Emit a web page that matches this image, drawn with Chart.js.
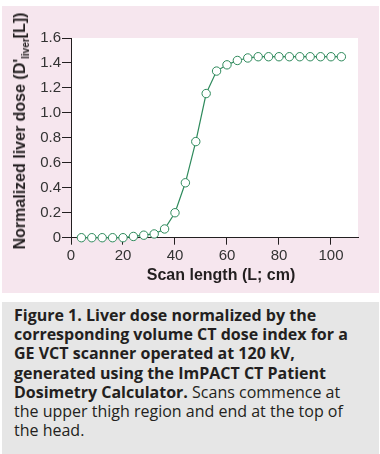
<!DOCTYPE html>
<html><head><meta charset="utf-8">
<script src="https://cdn.jsdelivr.net/npm/chart.js@4.4.1/dist/chart.umd.min.js"></script>
<style>
html,body{margin:0;padding:0;background:#fff;width:380px;height:454px;overflow:hidden;}
#pink{position:absolute;left:2px;top:6px;width:377px;height:287px;background:#f6e6ee;}
#wrap{position:absolute;left:0;top:0;width:380px;height:300px;}
#ytitle{position:absolute;left:20px;top:131px;transform:translate(-50%,-50%) rotate(-90deg);white-space:nowrap;font:bold 16px "Liberation Sans",Arial,sans-serif;color:#231f20;line-height:18px;}
#ytitle sub{font-size:10px;vertical-align:-4px;line-height:0;}
#xtitle{position:absolute;left:221px;top:275px;transform:translate(-50%,-50%);white-space:nowrap;font:bold 16px "Liberation Sans",Arial,sans-serif;color:#231f20;}
#cap{position:absolute;left:2px;top:302px;width:377px;height:152px;background:#e6e6e6;}
#cap p{margin:0;padding:4px 0 0 12px;font:16px/19.2px "Open Sans",sans-serif;color:#231f20;white-space:nowrap;}
#cap b{font-weight:700;}
</style></head>
<body>
<div id="pink"></div>
<div id="wrap"><canvas id="c" width="380" height="300"></canvas></div>
<div id="ytitle">Normalized liver dose (D'<sub>liver</sub>[L])</div>
<div id="xtitle">Scan length (L; cm)</div>
<div id="cap"><p><b>Figure 1. Liver dose normalized by the<br>corresponding volume CT dose index for a<br>GE VCT scanner operated at 120 kV,<br>generated using the ImPACT CT Patient<br>Dosimetry Calculator.</b> Scans commence at<br>the upper thigh region and end at the top of<br>the head.</p></div>
<script>
const scanLength = [4,8,12,16,20,24,28,32,36,40,44,48,52,56,60,64,68,72,76,80,84,88,92,96,100,104];
const liverDose = [0,0,0,0,0,0.01,0.02,0.03,0.07,0.2,0.44,0.77,1.155,1.335,1.385,1.42,1.44,1.45,1.45,1.45,1.45,1.45,1.45,1.45,1.45,1.45];
const xTicks = [0,20,40,60,80,100];
const xTickLabels = ['0','20','40','60','80','100'];
const yTicks = [0,0.2,0.4,0.6,0.8,1.0,1.2,1.4,1.6];
const yTickLabels = ['0','0.2','0.4','0.6','0.8','1.0','1.2','1.4','1.6'];

const green = '#2e8a5c';
const axisColor = '#231f20';

const whiteArea = {
  id:'whiteArea',
  beforeDraw(chart){
    const a = chart.chartArea, ctx = chart.ctx;
    ctx.save(); ctx.fillStyle = '#ffffff';
    ctx.fillRect(a.left, a.top, a.right - a.left, a.bottom - a.top);
    ctx.restore();
  }
};

new Chart(document.getElementById('c'), {
  type:'line',
  data:{
    datasets:[{
      data: scanLength.map((x,i)=>({x:x, y:liverDose[i]})),
      borderColor: green,
      borderWidth: 1.2,
      tension: 0,
      pointRadius: 4.2,
      pointBorderWidth: 1,
      pointBorderColor: green,
      pointBackgroundColor: '#ffffff',
      clip: false
    }]
  },
  options:{
    responsive:false,
    devicePixelRatio:1,
    animation:false,
    layout:{padding:{left:0, right:22, top:38, bottom:0}},
    plugins:{legend:{display:false}, tooltip:{enabled:false}},
    scales:{
      x:{
        type:'linear', min:0, max:110.4,
        afterBuildTicks: s => { s.ticks = xTicks.map(v=>({value:v})); },
        afterFit: s => { s.height = 62.3; },
        grid:{display:true, drawOnChartArea:false, drawTicks:true, tickLength:7, tickColor:axisColor, lineWidth:1},
        border:{display:true, color:axisColor, width:1},
        ticks:{font:{family:'Liberation Sans', size:15}, color:'#333333', padding:2, maxRotation:0, autoSkip:false,
          callback:(v,i)=>xTickLabels[i]}
      },
      y:{
        type:'linear', min:0, max:1.6,
        afterBuildTicks: s => { s.ticks = yTicks.map(v=>({value:v})); },
        afterFit: s => { s.width = 71; },
        grid:{display:true, drawOnChartArea:false, drawTicks:true, tickLength:9, tickColor:axisColor, lineWidth:1},
        border:{display:true, color:axisColor, width:1},
        ticks:{font:{family:'Liberation Sans', size:15}, color:'#333333', padding:1, autoSkip:false,
          callback:(v,i)=>yTickLabels[i]}
      }
    }
  },
  plugins:[whiteArea]
});
</script>
</body></html>
